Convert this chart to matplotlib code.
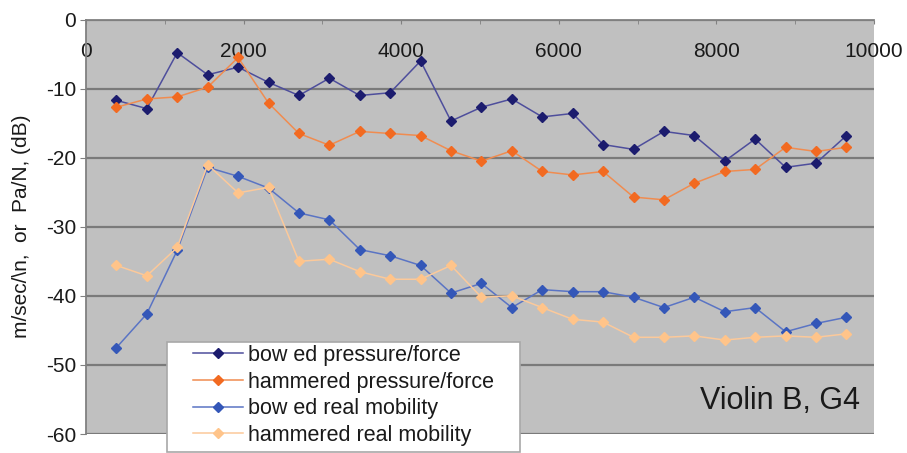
import matplotlib
matplotlib.use("Agg")
import matplotlib.pyplot as plt
from matplotlib.patches import Rectangle
from matplotlib.ticker import MultipleLocator

plt.rcParams['font.family'] = ['Liberation Sans', 'DejaVu Sans']
plt.rcParams['axes.unicode_minus'] = False

# harmonic frequencies of G4 (Hz)
freq = [386, 772, 1158, 1544, 1930, 2316, 2702, 3088, 3474, 3860, 4246, 4632, 5018,
        5404, 5790, 6176, 6562, 6948, 7334, 7720, 8106, 8492, 8878, 9264, 9650]

bowed_pf = [-11.7, -12.9, -4.8, -8.0, -6.9, -9.1, -11.0, -8.5, -11.0, -10.6, -6.0, -14.7, -12.7,
            -11.5, -14.1, -13.6, -18.1, -18.8, -16.2, -16.8, -20.5, -17.3, -21.4, -20.8, -16.8]
hammered_pf = [-12.7, -11.5, -11.2, -9.8, -5.5, -12.1, -16.5, -18.2, -16.2, -16.5, -16.8, -19.0, -20.5,
               -19.0, -22.0, -22.5, -22.0, -25.7, -26.1, -23.7, -22.0, -21.7, -18.5, -19.1, -18.5]
bowed_mob = [-47.5, -42.6, -33.4, -21.4, -22.7, -24.4, -28.0, -29.0, -33.3, -34.2, -35.6, -39.6, -38.2,
             -41.7, -39.1, -39.4, -39.4, -40.2, -41.7, -40.2, -42.3, -41.7, -45.2, -44.0, -43.1]
hammered_mob = [-35.6, -37.1, -33.0, -21.0, -25.1, -24.3, -35.0, -34.7, -36.5, -37.6, -37.6, -35.6, -40.2,
                -40.0, -41.7, -43.4, -43.8, -46.0, -46.0, -45.8, -46.4, -46.0, -45.8, -46.0, -45.5]

labels = ['bow ed pressure/force', 'hammered pressure/force',
          'bow ed real mobility', 'hammered real mobility']
series = [bowed_pf, hammered_pf, bowed_mob, hammered_mob]
line_colors = ['#4e4e9c', '#f08c50', '#5a74c4', '#fcc99a']
marker_colors = ['#1c1c6e', '#f26a21', '#3457b8', '#ffc48a']

fig = plt.figure(figsize=(9.07, 4.53), dpi=100)
ax = fig.add_axes([86/907, 19/453, 788/907, 414.5/453])
ax.set_facecolor('#c0c0c0')

for ys, lc, mc, lab in zip(series, line_colors, marker_colors, labels):
    ax.plot(freq, ys, color=lc, lw=1.1, marker='D', markersize=5,
            markerfacecolor=mc, markeredgecolor=mc, label=lab, zorder=3)

ax.set_xlim(0, 10000)
ax.set_ylim(-60, 0)

# horizontal grid
ax.yaxis.set_major_locator(MultipleLocator(10))
ax.grid(axis='y', color='#7a7a7a', lw=1.6, zorder=1)
ax.set_axisbelow(True)

# x axis on top, labels inside the plot
ax.xaxis.tick_top()
ax.xaxis.set_major_locator(MultipleLocator(2000))
ax.xaxis.set_minor_locator(MultipleLocator(1000))
ax.tick_params(axis='x', which='both', direction='in', length=3, color='#808080',
               pad=-30, labelsize=15, labelcolor='#1a1a1a')
ax.tick_params(axis='y', direction='out', length=4, color='#808080',
               pad=3, labelsize=15, labelcolor='#1a1a1a')

for s in ['right', 'bottom']:
    ax.spines[s].set_visible(False)
for s in ['top', 'left']:
    ax.spines[s].set_color('#808080')
    ax.spines[s].set_linewidth(1.3)

ax.set_ylabel('m/sec/\\n,  or  Pa/N, (dB)', fontsize=15, color='#1a1a1a', labelpad=11)

# legend box
box = Rectangle((0.1024, -0.0427), 0.4486, 0.2654, transform=ax.transAxes,
                facecolor='white', edgecolor='#a8a8a8', lw=1.2, clip_on=False, zorder=5)
ax.add_patch(box)
leg = ax.legend(loc='upper left', bbox_to_anchor=(0.1358, 0.2147), frameon=False,
                borderpad=0, borderaxespad=0, fontsize=15.5, handlelength=2.3,
                handletextpad=0.25, labelspacing=0.26)
leg.set_zorder(6)
for t in leg.get_texts():
    t.set_color('#1a1a1a')

ax.text(0.9825, 0.08, 'Violin B, G4', transform=ax.transAxes, ha='right', va='center',
        fontsize=22, color='#1a1a1a', zorder=4)

fig.savefig('out.png', dpi=100)
